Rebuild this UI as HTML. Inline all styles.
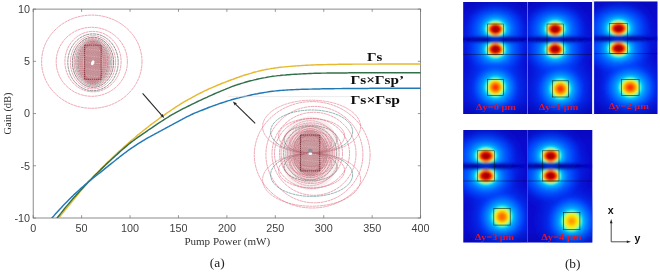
<!DOCTYPE html>
<html><head><meta charset="utf-8"><title>Gain vs pump power</title>
<style>
html,body{margin:0;padding:0;background:#fff;}
body{width:660px;height:273px;overflow:hidden;font-family:"Liberation Sans",sans-serif;}
svg{display:block;}
.fs{font-family:"Liberation Serif",serif;}
.fn{font-family:"Liberation Sans",sans-serif;}
</style></head><body>
<svg width="660" height="273" viewBox="0 0 660 273">
<defs><radialGradient id="jhi" ><stop offset="0.0" stop-color="#7d0000" stop-opacity="1"/><stop offset="0.07" stop-color="#a80000" stop-opacity="1"/><stop offset="0.15" stop-color="#e00800" stop-opacity="1"/><stop offset="0.19333333333333333" stop-color="#ff3200" stop-opacity="1"/><stop offset="0.22333333333333333" stop-color="#ff9600" stop-opacity="1"/><stop offset="0.25" stop-color="#ffe600" stop-opacity="1"/><stop offset="0.27666666666666667" stop-color="#96ff64" stop-opacity="1"/><stop offset="0.31" stop-color="#1effe0" stop-opacity="1"/><stop offset="0.36000000000000004" stop-color="#00c8ff" stop-opacity="1"/><stop offset="0.44" stop-color="#0096ff" stop-opacity="1"/><stop offset="0.5666666666666667" stop-color="#0066ff" stop-opacity="1"/><stop offset="0.7833333333333333" stop-color="#0046ff" stop-opacity="0.55"/><stop offset="1.0" stop-color="#0030f0" stop-opacity="0"/></radialGradient>
<radialGradient id="jhiU" cx="0.5" cy="0.5" r="0.5" fx="0.5" fy="0.545"><stop offset="0.0" stop-color="#7d0000" stop-opacity="1"/><stop offset="0.07" stop-color="#a80000" stop-opacity="1"/><stop offset="0.15" stop-color="#e00800" stop-opacity="1"/><stop offset="0.19333333333333333" stop-color="#ff3200" stop-opacity="1"/><stop offset="0.22333333333333333" stop-color="#ff9600" stop-opacity="1"/><stop offset="0.25" stop-color="#ffe600" stop-opacity="1"/><stop offset="0.27666666666666667" stop-color="#96ff64" stop-opacity="1"/><stop offset="0.31" stop-color="#1effe0" stop-opacity="1"/><stop offset="0.36000000000000004" stop-color="#00c8ff" stop-opacity="1"/><stop offset="0.44" stop-color="#0096ff" stop-opacity="1"/><stop offset="0.5666666666666667" stop-color="#0066ff" stop-opacity="1"/><stop offset="0.7833333333333333" stop-color="#0046ff" stop-opacity="0.55"/><stop offset="1.0" stop-color="#0030f0" stop-opacity="0"/></radialGradient>
<radialGradient id="jhiD" cx="0.5" cy="0.5" r="0.5" fx="0.5" fy="0.455"><stop offset="0.0" stop-color="#7d0000" stop-opacity="1"/><stop offset="0.07" stop-color="#a80000" stop-opacity="1"/><stop offset="0.15" stop-color="#e00800" stop-opacity="1"/><stop offset="0.19333333333333333" stop-color="#ff3200" stop-opacity="1"/><stop offset="0.22333333333333333" stop-color="#ff9600" stop-opacity="1"/><stop offset="0.25" stop-color="#ffe600" stop-opacity="1"/><stop offset="0.27666666666666667" stop-color="#96ff64" stop-opacity="1"/><stop offset="0.31" stop-color="#1effe0" stop-opacity="1"/><stop offset="0.36000000000000004" stop-color="#00c8ff" stop-opacity="1"/><stop offset="0.44" stop-color="#0096ff" stop-opacity="1"/><stop offset="0.5666666666666667" stop-color="#0066ff" stop-opacity="1"/><stop offset="0.7833333333333333" stop-color="#0046ff" stop-opacity="0.55"/><stop offset="1.0" stop-color="#0030f0" stop-opacity="0"/></radialGradient>
<radialGradient id="jmid" ><stop offset="0" stop-color="#ff1e00" stop-opacity="1"/><stop offset="0.06" stop-color="#ff2d00" stop-opacity="1"/><stop offset="0.13" stop-color="#ff5a00" stop-opacity="1"/><stop offset="0.19" stop-color="#ff9600" stop-opacity="1"/><stop offset="0.24" stop-color="#ffcd00" stop-opacity="1"/><stop offset="0.28" stop-color="#fff000" stop-opacity="1"/><stop offset="0.325" stop-color="#96ff64" stop-opacity="1"/><stop offset="0.375" stop-color="#1effe0" stop-opacity="1"/><stop offset="0.43" stop-color="#00c8ff" stop-opacity="1"/><stop offset="0.53" stop-color="#0096ff" stop-opacity="1"/><stop offset="0.69" stop-color="#0066ff" stop-opacity="1"/><stop offset="0.86" stop-color="#0046ff" stop-opacity="0.5"/><stop offset="1" stop-color="#0030f0" stop-opacity="0"/></radialGradient>
<radialGradient id="jlo" ><stop offset="0" stop-color="#ff6400" stop-opacity="1"/><stop offset="0.1" stop-color="#ff6e00" stop-opacity="1"/><stop offset="0.16" stop-color="#ff9600" stop-opacity="1"/><stop offset="0.215" stop-color="#ffd200" stop-opacity="1"/><stop offset="0.275" stop-color="#f8f50f" stop-opacity="1"/><stop offset="0.325" stop-color="#96ff64" stop-opacity="1"/><stop offset="0.375" stop-color="#1effe0" stop-opacity="1"/><stop offset="0.43" stop-color="#00c8ff" stop-opacity="1"/><stop offset="0.53" stop-color="#0096ff" stop-opacity="1"/><stop offset="0.69" stop-color="#0066ff" stop-opacity="1"/><stop offset="0.86" stop-color="#0046ff" stop-opacity="0.5"/><stop offset="1" stop-color="#0030f0" stop-opacity="0"/></radialGradient>
<radialGradient id="jlo2" ><stop offset="0" stop-color="#ff9600" stop-opacity="1"/><stop offset="0.08" stop-color="#ff9b00" stop-opacity="1"/><stop offset="0.14" stop-color="#ffbe00" stop-opacity="1"/><stop offset="0.205" stop-color="#ffe600" stop-opacity="1"/><stop offset="0.275" stop-color="#ebf51e" stop-opacity="1"/><stop offset="0.325" stop-color="#96ff64" stop-opacity="1"/><stop offset="0.375" stop-color="#1effe0" stop-opacity="1"/><stop offset="0.43" stop-color="#00c8ff" stop-opacity="1"/><stop offset="0.53" stop-color="#0096ff" stop-opacity="1"/><stop offset="0.69" stop-color="#0066ff" stop-opacity="1"/><stop offset="0.86" stop-color="#0046ff" stop-opacity="0.5"/><stop offset="1" stop-color="#0030f0" stop-opacity="0"/></radialGradient>
<radialGradient id="halo"><stop offset="0" stop-color="#0060ff" stop-opacity="1"/><stop offset="0.45" stop-color="#0048ff" stop-opacity="0.85"/><stop offset="1" stop-color="#0020e6" stop-opacity="0"/></radialGradient>
<radialGradient id="halo2"><stop offset="0" stop-color="#0078ff" stop-opacity="1"/><stop offset="0.55" stop-color="#0064ff" stop-opacity="0.75"/><stop offset="1" stop-color="#0040ff" stop-opacity="0"/></radialGradient>
<radialGradient id="nullg"><stop offset="0" stop-color="#000096" stop-opacity="0.95"/><stop offset="0.55" stop-color="#0000a0" stop-opacity="0.85"/><stop offset="1" stop-color="#0000c8" stop-opacity="0"/></radialGradient>
<radialGradient id="nullc"><stop offset="0" stop-color="#0050ff" stop-opacity="0.95"/><stop offset="0.55" stop-color="#0046ff" stop-opacity="0.8"/><stop offset="1" stop-color="#0030e0" stop-opacity="0"/></radialGradient>
<linearGradient id="vshade" x1="0" y1="0" x2="0" y2="1"><stop offset="0" stop-color="#000078" stop-opacity="0.18"/><stop offset="0.12" stop-color="#000078" stop-opacity="0"/><stop offset="0.88" stop-color="#000078" stop-opacity="0"/><stop offset="1" stop-color="#000078" stop-opacity="0.25"/></linearGradient>
<filter id="bl" x="-5%" y="-5%" width="110%" height="110%"><feGaussianBlur stdDeviation="0.85"/></filter>
<filter id="blt" x="-2%" y="-2%" width="104%" height="104%"><feGaussianBlur stdDeviation="0.3"/></filter>
<filter id="bl2" x="-5%" y="-5%" width="110%" height="110%"><feGaussianBlur stdDeviation="0.35"/></filter>
<filter id="bl3" x="-5%" y="-5%" width="110%" height="110%"><feGaussianBlur stdDeviation="0.45"/></filter>
<clipPath id="cp1"><rect x="463.2" y="2.0" width="64.30000000000001" height="111.9"/></clipPath>
<clipPath id="cp1a"><rect x="458.2" y="-3.0" width="74.30000000000001" height="42.25"/></clipPath>
<clipPath id="cp1b"><rect x="458.2" y="39.25" width="74.30000000000001" height="79.65"/></clipPath>
<clipPath id="cp2"><rect x="527.5" y="2.0" width="64.79999999999995" height="111.9"/></clipPath>
<clipPath id="cp2a"><rect x="522.5" y="-3.0" width="74.79999999999995" height="42.25"/></clipPath>
<clipPath id="cp2b"><rect x="522.5" y="39.25" width="74.79999999999995" height="79.65"/></clipPath>
<clipPath id="cp3"><rect x="594.0" y="1.5" width="63.5" height="112.6"/></clipPath>
<clipPath id="cp3a"><rect x="589.0" y="-3.5" width="73.5" height="41.95"/></clipPath>
<clipPath id="cp3b"><rect x="589.0" y="38.45" width="73.5" height="80.64999999999999"/></clipPath>
<clipPath id="cp4"><rect x="463.3" y="130" width="64.19999999999999" height="112.4"/></clipPath>
<clipPath id="cp4a"><rect x="458.3" y="125" width="74.19999999999999" height="40.900000000000006"/></clipPath>
<clipPath id="cp4b"><rect x="458.3" y="165.9" width="74.19999999999999" height="81.5"/></clipPath>
<clipPath id="cp5"><rect x="527.5" y="130" width="64.79999999999995" height="112.4"/></clipPath>
<clipPath id="cp5a"><rect x="522.5" y="125" width="74.79999999999995" height="40.900000000000006"/></clipPath>
<clipPath id="cp5b"><rect x="522.5" y="165.9" width="74.79999999999995" height="81.5"/></clipPath><clipPath id="axclip"><rect x="33.2" y="9.1" width="387.40000000000003" height="208.9"/></clipPath></defs>
<rect width="660" height="273" fill="#fff"/>
<g filter="url(#bl2)">
<ellipse cx="91.80" cy="61.70" rx="50.20" ry="46.60" fill="none" stroke="#e2687f" stroke-width="0.65" stroke-opacity="0.9" stroke-dasharray="3 0.5"/>
<ellipse cx="91.80" cy="61.80" rx="35.60" ry="34.50" fill="none" stroke="#e2687f" stroke-width="0.65" stroke-opacity="0.9" stroke-dasharray="3 0.5"/>
<ellipse cx="93.00" cy="61.60" rx="28.10" ry="30.20" fill="none" stroke="#e2687f" stroke-width="0.65" stroke-opacity="0.9" stroke-dasharray="3 0.5"/>
<ellipse cx="93.00" cy="62.30" rx="25.20" ry="28.40" fill="none" stroke="#5a5a5a" stroke-width="0.75" stroke-opacity="0.85" stroke-dasharray="3 0.5"/>
<ellipse cx="93.00" cy="62.30" rx="22.60" ry="26.60" fill="none" stroke="#d9657b" stroke-width="0.65" stroke-opacity="0.9" stroke-dasharray="3 0.5"/>
<ellipse cx="93.00" cy="62.30" rx="20.60" ry="25.00" fill="none" stroke="#444" stroke-width="0.75" stroke-opacity="0.85" stroke-dasharray="3 0.5"/>
<ellipse cx="93.00" cy="62.30" rx="18.80" ry="23.70" fill="none" stroke="#c4596b" stroke-width="0.65" stroke-opacity="0.9" stroke-dasharray="3 0.5"/>
<ellipse cx="93.00" cy="62.30" rx="17.30" ry="22.60" fill="none" stroke="#4f8c88" stroke-width="0.7" stroke-opacity="0.85" stroke-dasharray="3 0.5"/>
<ellipse cx="93.00" cy="62.30" rx="16.00" ry="21.70" fill="none" stroke="#c4596b" stroke-width="0.65" stroke-opacity="0.9" stroke-dasharray="3 0.5"/>
<ellipse cx="93.00" cy="62.30" rx="14.80" ry="20.90" fill="none" stroke="#444" stroke-width="0.7" stroke-opacity="0.85" stroke-dasharray="3 0.5"/>
<ellipse cx="92.9" cy="62.3" rx="21" ry="25.5" fill="#c48488" fill-opacity="0.16"/>
<ellipse cx="92.9" cy="62.3" rx="17.5" ry="23" fill="#c48488" fill-opacity="0.24"/>
<ellipse cx="92.9" cy="62.3" rx="14" ry="20.5" fill="#bd787e" fill-opacity="0.30"/>
<ellipse cx="92.90" cy="62.30" rx="13.70" ry="20.20" fill="none" stroke="#c4596b" stroke-width="0.55" stroke-opacity="0.7" stroke-dasharray="1.6 0.6"/>
<ellipse cx="92.90" cy="62.30" rx="12.70" ry="19.60" fill="none" stroke="#9a4048" stroke-width="0.55" stroke-opacity="0.7" stroke-dasharray="1.6 0.6"/>
<ellipse cx="92.90" cy="62.30" rx="11.80" ry="19.00" fill="none" stroke="#c4596b" stroke-width="0.55" stroke-opacity="0.7" stroke-dasharray="1.6 0.6"/>
<ellipse cx="92.90" cy="62.30" rx="10.90" ry="18.50" fill="none" stroke="#9a4048" stroke-width="0.55" stroke-opacity="0.7" stroke-dasharray="1.6 0.6"/>
<ellipse cx="92.90" cy="62.30" rx="10.10" ry="18.00" fill="none" stroke="#c4596b" stroke-width="0.55" stroke-opacity="0.7" stroke-dasharray="1.6 0.6"/>
<rect x="84.6" y="45.1" width="16.6" height="34.2" fill="#a8626a" fill-opacity="0.36" stroke="#7a2630" stroke-width="0.85" stroke-dasharray="1.5 0.6"/>
<ellipse cx="92.90" cy="62.30" rx="1.60" ry="2.80" fill="none" stroke="#9a4048" stroke-width="0.5" stroke-opacity="0.4" stroke-dasharray="1 0.7"/>
<ellipse cx="92.90" cy="62.30" rx="2.65" ry="5.00" fill="none" stroke="#9a4048" stroke-width="0.5" stroke-opacity="0.4" stroke-dasharray="1 0.7"/>
<ellipse cx="92.90" cy="62.30" rx="3.70" ry="7.20" fill="none" stroke="#9a4048" stroke-width="0.5" stroke-opacity="0.4" stroke-dasharray="1 0.7"/>
<ellipse cx="92.90" cy="62.30" rx="4.75" ry="9.40" fill="none" stroke="#9a4048" stroke-width="0.5" stroke-opacity="0.4" stroke-dasharray="1 0.7"/>
<ellipse cx="92.90" cy="62.30" rx="5.80" ry="11.60" fill="none" stroke="#9a4048" stroke-width="0.5" stroke-opacity="0.4" stroke-dasharray="1 0.7"/>
<ellipse cx="92.90" cy="62.30" rx="6.85" ry="13.80" fill="none" stroke="#9a4048" stroke-width="0.5" stroke-opacity="0.4" stroke-dasharray="1 0.7"/>
<ellipse cx="92.90" cy="62.30" rx="7.90" ry="16.00" fill="none" stroke="#9a4048" stroke-width="0.5" stroke-opacity="0.4" stroke-dasharray="1 0.7"/>
<line x1="86" y1="49.0" x2="100" y2="50.5" stroke="#f3d9da" stroke-width="0.7" stroke-opacity="0.6" stroke-dasharray="1.2 1.4"/>
<line x1="86" y1="55.6" x2="100" y2="57.1" stroke="#f3d9da" stroke-width="0.7" stroke-opacity="0.6" stroke-dasharray="1.2 1.4"/>
<line x1="86" y1="62.2" x2="100" y2="63.7" stroke="#f3d9da" stroke-width="0.7" stroke-opacity="0.6" stroke-dasharray="1.2 1.4"/>
<line x1="86" y1="68.8" x2="100" y2="70.3" stroke="#f3d9da" stroke-width="0.7" stroke-opacity="0.6" stroke-dasharray="1.2 1.4"/>
<line x1="86" y1="75.4" x2="100" y2="76.9" stroke="#f3d9da" stroke-width="0.7" stroke-opacity="0.6" stroke-dasharray="1.2 1.4"/>
<ellipse cx="92.9" cy="62.8" rx="1.5" ry="2.6" fill="#fff" transform="rotate(25 92.9 62.3)"/>
<ellipse cx="312.20" cy="154.80" rx="57.90" ry="53.20" fill="none" stroke="#e2687f" stroke-width="0.65" stroke-opacity="0.9" stroke-dasharray="3 0.5"/>
<ellipse cx="314.40" cy="154.60" rx="48.50" ry="48.20" fill="none" stroke="#e2687f" stroke-width="0.65" stroke-opacity="0.9" stroke-dasharray="3 0.5"/>
<ellipse cx="314.00" cy="153.80" rx="42.00" ry="41.50" fill="none" stroke="#e2687f" stroke-width="0.65" stroke-opacity="0.9" stroke-dasharray="3 0.5"/>
<ellipse cx="312.00" cy="153.40" rx="37.50" ry="35.00" fill="none" stroke="#d9657b" stroke-width="0.65" stroke-opacity="0.9" stroke-dasharray="3 0.5"/>
<ellipse cx="311.00" cy="153.20" rx="31.50" ry="30.30" fill="none" stroke="#d9657b" stroke-width="0.65" stroke-opacity="0.9" stroke-dasharray="3 0.5"/>
<ellipse cx="310.10" cy="153.20" rx="26.50" ry="26.80" fill="none" stroke="#5a5a5a" stroke-width="0.7" stroke-opacity="0.8" stroke-dasharray="3 0.5"/>
<ellipse cx="310.10" cy="153.20" rx="22.60" ry="24.30" fill="none" stroke="#d9657b" stroke-width="0.65" stroke-opacity="0.9" stroke-dasharray="3 0.5"/>
<ellipse cx="310.10" cy="153.20" rx="19.60" ry="22.60" fill="none" stroke="#c4596b" stroke-width="0.65" stroke-opacity="0.9" stroke-dasharray="3 0.5"/>
<ellipse cx="310.10" cy="153.20" rx="17.20" ry="21.40" fill="none" stroke="#5a5a5a" stroke-width="0.7" stroke-opacity="0.8" stroke-dasharray="3 0.5"/>
<ellipse cx="310.10" cy="153.20" rx="15.20" ry="20.50" fill="none" stroke="#c4596b" stroke-width="0.65" stroke-opacity="0.9" stroke-dasharray="3 0.5"/>
<ellipse cx="311.60" cy="131.60" rx="41.00" ry="21.60" fill="none" stroke="#4f8c88" stroke-width="0.75" stroke-opacity="0.85" stroke-dasharray="3 0.5"/>
<ellipse cx="311.60" cy="174.80" rx="41.00" ry="21.60" fill="none" stroke="#4f8c88" stroke-width="0.75" stroke-opacity="0.85" stroke-dasharray="3 0.5"/>
<ellipse cx="311.60" cy="135.90" rx="33.00" ry="17.30" fill="none" stroke="#d9657b" stroke-width="0.65" stroke-opacity="0.85" stroke-dasharray="3 0.5"/>
<ellipse cx="311.60" cy="170.50" rx="33.00" ry="17.30" fill="none" stroke="#d9657b" stroke-width="0.65" stroke-opacity="0.85" stroke-dasharray="3 0.5"/>
<ellipse cx="310.60" cy="139.40" rx="26.50" ry="13.80" fill="none" stroke="#5a5a5a" stroke-width="0.7" stroke-opacity="0.85" stroke-dasharray="3 0.5"/>
<ellipse cx="310.60" cy="167.00" rx="26.50" ry="13.80" fill="none" stroke="#5a5a5a" stroke-width="0.7" stroke-opacity="0.85" stroke-dasharray="3 0.5"/>
<ellipse cx="310.60" cy="142.20" rx="21.00" ry="11.00" fill="none" stroke="#d9657b" stroke-width="0.65" stroke-opacity="0.85" stroke-dasharray="3 0.5"/>
<ellipse cx="310.60" cy="164.20" rx="21.00" ry="11.00" fill="none" stroke="#d9657b" stroke-width="0.65" stroke-opacity="0.85" stroke-dasharray="3 0.5"/>
<ellipse cx="310.60" cy="144.60" rx="16.50" ry="8.60" fill="none" stroke="#c4596b" stroke-width="0.6" stroke-opacity="0.85" stroke-dasharray="3 0.5"/>
<ellipse cx="310.60" cy="161.80" rx="16.50" ry="8.60" fill="none" stroke="#c4596b" stroke-width="0.6" stroke-opacity="0.85" stroke-dasharray="3 0.5"/>
<ellipse cx="310.60" cy="146.60" rx="12.80" ry="6.60" fill="none" stroke="#c4596b" stroke-width="0.6" stroke-opacity="0.85" stroke-dasharray="3 0.5"/>
<ellipse cx="310.60" cy="159.80" rx="12.80" ry="6.60" fill="none" stroke="#c4596b" stroke-width="0.6" stroke-opacity="0.85" stroke-dasharray="3 0.5"/>
<ellipse cx="311.60" cy="126.70" rx="49.00" ry="26.50" fill="none" stroke="#e2687f" stroke-width="0.65" stroke-opacity="0.85" stroke-dasharray="3 0.5"/>
<ellipse cx="311.60" cy="179.70" rx="49.00" ry="26.50" fill="none" stroke="#e2687f" stroke-width="0.65" stroke-opacity="0.85" stroke-dasharray="3 0.5"/>
<ellipse cx="310.10" cy="153.20" rx="29.00" ry="32.50" fill="none" stroke="#d9657b" stroke-width="0.6" stroke-opacity="0.8" stroke-dasharray="3 0.5"/>
<ellipse cx="310.10" cy="153.20" rx="24.50" ry="29.00" fill="none" stroke="#d9657b" stroke-width="0.6" stroke-opacity="0.8" stroke-dasharray="3 0.5"/>
<ellipse cx="310.10" cy="153.20" rx="21.00" ry="26.50" fill="none" stroke="#c4596b" stroke-width="0.6" stroke-opacity="0.8" stroke-dasharray="3 0.5"/>
<ellipse cx="310.10" cy="153.20" rx="18.40" ry="24.60" fill="none" stroke="#d9657b" stroke-width="0.6" stroke-opacity="0.8" stroke-dasharray="3 0.5"/>
<ellipse cx="310.10" cy="153.20" rx="16.20" ry="23.00" fill="none" stroke="#c4596b" stroke-width="0.6" stroke-opacity="0.8" stroke-dasharray="3 0.5"/>
<ellipse cx="310.10" cy="153.20" rx="14.40" ry="21.80" fill="none" stroke="#d9657b" stroke-width="0.6" stroke-opacity="0.8" stroke-dasharray="3 0.5"/>
<ellipse cx="310.1" cy="153.2" rx="30" ry="37" fill="#d09aa0" fill-opacity="0.16"/>
<ellipse cx="310.1" cy="153.2" rx="24" ry="28" fill="#c88c92" fill-opacity="0.20"/>
<ellipse cx="310.1" cy="153.2" rx="17" ry="21.5" fill="#bd787e" fill-opacity="0.30"/>
<ellipse cx="310.10" cy="153.20" rx="13.60" ry="19.90" fill="none" stroke="#c4596b" stroke-width="0.55" stroke-opacity="0.7" stroke-dasharray="1.6 0.6"/>
<ellipse cx="310.10" cy="153.20" rx="12.30" ry="19.30" fill="none" stroke="#9a4048" stroke-width="0.55" stroke-opacity="0.7" stroke-dasharray="1.6 0.6"/>
<ellipse cx="310.10" cy="153.20" rx="11.20" ry="18.80" fill="none" stroke="#c4596b" stroke-width="0.55" stroke-opacity="0.7" stroke-dasharray="1.6 0.6"/>
<rect x="300.4" y="135" width="19.4" height="36" fill="#a8626a" fill-opacity="0.34" stroke="#5e1e26" stroke-width="0.85" stroke-dasharray="1.5 0.6"/>
<ellipse cx="310.10" cy="153.20" rx="1.80" ry="2.60" fill="none" stroke="#9a4048" stroke-width="0.5" stroke-opacity="0.4" stroke-dasharray="1 0.7"/>
<ellipse cx="310.10" cy="153.20" rx="3.05" ry="4.90" fill="none" stroke="#9a4048" stroke-width="0.5" stroke-opacity="0.4" stroke-dasharray="1 0.7"/>
<ellipse cx="310.10" cy="153.20" rx="4.30" ry="7.20" fill="none" stroke="#9a4048" stroke-width="0.5" stroke-opacity="0.4" stroke-dasharray="1 0.7"/>
<ellipse cx="310.10" cy="153.20" rx="5.55" ry="9.50" fill="none" stroke="#9a4048" stroke-width="0.5" stroke-opacity="0.4" stroke-dasharray="1 0.7"/>
<ellipse cx="310.10" cy="153.20" rx="6.80" ry="11.80" fill="none" stroke="#9a4048" stroke-width="0.5" stroke-opacity="0.4" stroke-dasharray="1 0.7"/>
<ellipse cx="310.10" cy="153.20" rx="8.05" ry="14.10" fill="none" stroke="#9a4048" stroke-width="0.5" stroke-opacity="0.4" stroke-dasharray="1 0.7"/>
<ellipse cx="310.10" cy="153.20" rx="9.30" ry="16.40" fill="none" stroke="#9a4048" stroke-width="0.5" stroke-opacity="0.4" stroke-dasharray="1 0.7"/>
<line x1="302" y1="139" x2="318" y2="140.5" stroke="#f3d9da" stroke-width="0.7" stroke-opacity="0.6" stroke-dasharray="1.2 1.4"/>
<line x1="302" y1="146" x2="318" y2="147.5" stroke="#f3d9da" stroke-width="0.7" stroke-opacity="0.6" stroke-dasharray="1.2 1.4"/>
<line x1="302" y1="153" x2="318" y2="154.5" stroke="#f3d9da" stroke-width="0.7" stroke-opacity="0.6" stroke-dasharray="1.2 1.4"/>
<line x1="302" y1="160" x2="318" y2="161.5" stroke="#f3d9da" stroke-width="0.7" stroke-opacity="0.6" stroke-dasharray="1.2 1.4"/>
<line x1="302" y1="167" x2="318" y2="168.5" stroke="#f3d9da" stroke-width="0.7" stroke-opacity="0.6" stroke-dasharray="1.2 1.4"/>
<ellipse cx="310.3" cy="151.0" rx="2.4" ry="2.2" fill="#8d8f96"/>
<ellipse cx="310.3" cy="153.79999999999998" rx="1.9" ry="1.2" fill="#fff"/>
</g>
<g filter="url(#blt)">
<rect x="33.2" y="9.1" width="387.40000000000003" height="208.9" fill="none" stroke="#6e6e6e" stroke-width="0.8"/>
<line x1="33.20" y1="218.0" x2="33.20" y2="215.2" stroke="#6e6e6e" stroke-width="0.7"/>
<line x1="33.20" y1="9.1" x2="33.20" y2="11.899999999999999" stroke="#6e6e6e" stroke-width="0.7"/>
<text x="33.20" y="232.3" class="fn" font-size="10.8" fill="#404040" text-anchor="middle">0</text>
<line x1="81.62" y1="218.0" x2="81.62" y2="215.2" stroke="#6e6e6e" stroke-width="0.7"/>
<line x1="81.62" y1="9.1" x2="81.62" y2="11.899999999999999" stroke="#6e6e6e" stroke-width="0.7"/>
<text x="81.62" y="232.3" class="fn" font-size="10.8" fill="#404040" text-anchor="middle">50</text>
<line x1="130.05" y1="218.0" x2="130.05" y2="215.2" stroke="#6e6e6e" stroke-width="0.7"/>
<line x1="130.05" y1="9.1" x2="130.05" y2="11.899999999999999" stroke="#6e6e6e" stroke-width="0.7"/>
<text x="130.05" y="232.3" class="fn" font-size="10.8" fill="#404040" text-anchor="middle">100</text>
<line x1="178.48" y1="218.0" x2="178.48" y2="215.2" stroke="#6e6e6e" stroke-width="0.7"/>
<line x1="178.48" y1="9.1" x2="178.48" y2="11.899999999999999" stroke="#6e6e6e" stroke-width="0.7"/>
<text x="178.48" y="232.3" class="fn" font-size="10.8" fill="#404040" text-anchor="middle">150</text>
<line x1="226.90" y1="218.0" x2="226.90" y2="215.2" stroke="#6e6e6e" stroke-width="0.7"/>
<line x1="226.90" y1="9.1" x2="226.90" y2="11.899999999999999" stroke="#6e6e6e" stroke-width="0.7"/>
<text x="226.90" y="232.3" class="fn" font-size="10.8" fill="#404040" text-anchor="middle">200</text>
<line x1="275.33" y1="218.0" x2="275.33" y2="215.2" stroke="#6e6e6e" stroke-width="0.7"/>
<line x1="275.33" y1="9.1" x2="275.33" y2="11.899999999999999" stroke="#6e6e6e" stroke-width="0.7"/>
<text x="275.33" y="232.3" class="fn" font-size="10.8" fill="#404040" text-anchor="middle">250</text>
<line x1="323.75" y1="218.0" x2="323.75" y2="215.2" stroke="#6e6e6e" stroke-width="0.7"/>
<line x1="323.75" y1="9.1" x2="323.75" y2="11.899999999999999" stroke="#6e6e6e" stroke-width="0.7"/>
<text x="323.75" y="232.3" class="fn" font-size="10.8" fill="#404040" text-anchor="middle">300</text>
<line x1="372.18" y1="218.0" x2="372.18" y2="215.2" stroke="#6e6e6e" stroke-width="0.7"/>
<line x1="372.18" y1="9.1" x2="372.18" y2="11.899999999999999" stroke="#6e6e6e" stroke-width="0.7"/>
<text x="372.18" y="232.3" class="fn" font-size="10.8" fill="#404040" text-anchor="middle">350</text>
<line x1="420.60" y1="218.0" x2="420.60" y2="215.2" stroke="#6e6e6e" stroke-width="0.7"/>
<line x1="420.60" y1="9.1" x2="420.60" y2="11.899999999999999" stroke="#6e6e6e" stroke-width="0.7"/>
<text x="420.60" y="232.3" class="fn" font-size="10.8" fill="#404040" text-anchor="middle">400</text>
<line x1="33.2" y1="218.00" x2="36.0" y2="218.00" stroke="#6e6e6e" stroke-width="0.7"/>
<line x1="420.6" y1="218.00" x2="417.8" y2="218.00" stroke="#6e6e6e" stroke-width="0.7"/>
<text x="30" y="221.80" class="fn" font-size="10.8" fill="#404040" text-anchor="end">-10</text>
<line x1="33.2" y1="165.78" x2="36.0" y2="165.78" stroke="#6e6e6e" stroke-width="0.7"/>
<line x1="420.6" y1="165.78" x2="417.8" y2="165.78" stroke="#6e6e6e" stroke-width="0.7"/>
<text x="30" y="169.58" class="fn" font-size="10.8" fill="#404040" text-anchor="end">-5</text>
<line x1="33.2" y1="113.55" x2="36.0" y2="113.55" stroke="#6e6e6e" stroke-width="0.7"/>
<line x1="420.6" y1="113.55" x2="417.8" y2="113.55" stroke="#6e6e6e" stroke-width="0.7"/>
<text x="30" y="117.35" class="fn" font-size="10.8" fill="#404040" text-anchor="end">0</text>
<line x1="33.2" y1="61.32" x2="36.0" y2="61.32" stroke="#6e6e6e" stroke-width="0.7"/>
<line x1="420.6" y1="61.32" x2="417.8" y2="61.32" stroke="#6e6e6e" stroke-width="0.7"/>
<text x="30" y="65.12" class="fn" font-size="10.8" fill="#404040" text-anchor="end">5</text>
<line x1="33.2" y1="9.10" x2="36.0" y2="9.10" stroke="#6e6e6e" stroke-width="0.7"/>
<line x1="420.6" y1="9.10" x2="417.8" y2="9.10" stroke="#6e6e6e" stroke-width="0.7"/>
<text x="30" y="12.90" class="fn" font-size="10.8" fill="#404040" text-anchor="end">10</text>
<g clip-path="url(#axclip)" fill="none" stroke-width="1.45" stroke-linecap="round" stroke-linejoin="round">
<path d="M58.6,218.0 L60.4,215.8 L62.2,213.6 L64.1,211.3 L65.9,209.1 L67.7,206.9 L69.5,204.7 L71.3,202.5 L73.1,200.3 L75.0,198.1 L76.8,195.9 L78.6,193.6 L80.4,191.4 L82.2,189.2 L84.1,187.0 L85.9,184.9 L87.7,182.8 L89.5,180.8 L91.3,178.9 L93.2,177.0 L95.0,175.1 L96.8,173.2 L98.6,171.4 L100.4,169.6 L102.2,167.7 L104.1,165.9 L105.9,164.1 L107.7,162.3 L109.5,160.5 L111.3,158.8 L113.2,157.0 L115.0,155.3 L116.8,153.6 L118.6,151.9 L120.4,150.2 L122.3,148.6 L124.1,146.9 L125.9,145.3 L127.7,143.7 L129.5,142.1 L131.3,140.5 L133.2,139.0 L135.0,137.5 L136.8,135.9 L138.6,134.4 L140.4,133.0 L142.3,131.5 L144.1,130.0 L145.9,128.6 L147.7,127.2 L149.5,125.8 L151.3,124.4 L153.2,123.0 L155.0,121.7 L156.8,120.3 L158.6,119.0 L160.4,117.7 L162.3,116.4 L164.1,115.1 L165.9,113.8 L167.7,112.5 L169.5,111.3 L171.4,110.0 L173.2,108.8 L175.0,107.6 L176.8,106.4 L178.6,105.3 L180.4,104.1 L182.3,103.0 L184.1,101.9 L185.9,100.8 L187.7,99.8 L189.5,98.8 L191.4,97.8 L193.2,96.8 L195.0,95.8 L196.8,94.8 L198.6,93.9 L200.5,93.0 L202.3,92.1 L204.1,91.2 L205.9,90.4 L207.7,89.5 L209.5,88.7 L211.4,87.9 L213.2,87.1 L215.0,86.3 L216.8,85.5 L218.6,84.8 L220.5,84.0 L222.3,83.3 L224.1,82.6 L225.9,81.9 L227.7,81.2 L229.5,80.5 L231.4,79.8 L233.2,79.2 L235.0,78.5 L236.8,77.8 L238.6,77.2 L240.5,76.5 L242.3,75.9 L244.1,75.3 L245.9,74.7 L247.7,74.2 L249.6,73.6 L251.4,73.1 L253.2,72.5 L255.0,72.0 L256.8,71.6 L258.6,71.1 L260.5,70.7 L262.3,70.3 L264.1,69.9 L265.9,69.5 L267.7,69.2 L269.6,68.9 L271.4,68.5 L273.2,68.3 L275.0,68.0 L276.8,67.8 L278.6,67.5 L280.5,67.3 L282.3,67.1 L284.1,66.9 L285.9,66.8 L287.7,66.6 L289.6,66.4 L291.4,66.3 L293.2,66.1 L295.0,66.0 L296.8,65.9 L298.7,65.7 L300.5,65.6 L302.3,65.5 L304.1,65.4 L305.9,65.3 L307.7,65.2 L309.6,65.1 L311.4,65.0 L313.2,65.0 L315.0,64.9 L316.8,64.8 L318.7,64.8 L320.5,64.7 L322.3,64.7 L324.1,64.6 L325.9,64.6 L327.8,64.5 L329.6,64.5 L331.4,64.5 L333.2,64.4 L335.0,64.4 L336.8,64.4 L338.7,64.3 L340.5,64.3 L342.3,64.3 L344.1,64.3 L345.9,64.2 L347.8,64.2 L349.6,64.2 L351.4,64.2 L353.2,64.1 L355.0,64.1 L356.8,64.1 L358.7,64.1 L360.5,64.1 L362.3,64.1 L364.1,64.1 L365.9,64.1 L367.8,64.1 L369.6,64.1 L371.4,64.1 L373.2,64.1 L375.0,64.1 L376.9,64.1 L378.7,64.0 L380.5,64.0 L382.3,64.0 L384.1,64.0 L385.9,64.0 L387.8,64.0 L389.6,64.0 L391.4,64.0 L393.2,64.0 L395.0,64.0 L396.9,64.0 L398.7,64.0 L400.5,64.0 L402.3,64.0 L404.1,64.0 L406.0,64.0 L407.8,64.0 L409.6,64.0 L411.4,64.0 L413.2,64.0 L415.0,64.0 L416.9,64.0 L418.7,64.0 L420.5,64.0" stroke="#e6b92e"/>
<path d="M57.1,218.0 L58.9,215.7 L60.8,213.4 L62.6,211.1 L64.4,208.8 L66.2,206.6 L68.1,204.4 L69.9,202.3 L71.7,200.1 L73.5,198.0 L75.4,196.0 L77.2,194.0 L79.0,192.0 L80.8,190.0 L82.7,188.0 L84.5,186.1 L86.3,184.2 L88.1,182.2 L90.0,180.4 L91.8,178.5 L93.6,176.6 L95.4,174.8 L97.3,173.0 L99.1,171.2 L100.9,169.4 L102.8,167.6 L104.6,165.9 L106.4,164.1 L108.2,162.4 L110.1,160.7 L111.9,159.0 L113.7,157.4 L115.5,155.7 L117.4,154.1 L119.2,152.4 L121.0,150.8 L122.8,149.2 L124.7,147.6 L126.5,146.1 L128.3,144.5 L130.1,143.1 L132.0,141.7 L133.8,140.3 L135.6,139.0 L137.4,137.7 L139.3,136.4 L141.1,135.1 L142.9,133.8 L144.8,132.6 L146.6,131.3 L148.4,130.0 L150.2,128.8 L152.1,127.6 L153.9,126.3 L155.7,125.1 L157.5,123.9 L159.4,122.7 L161.2,121.5 L163.0,120.4 L164.8,119.2 L166.7,118.0 L168.5,116.9 L170.3,115.7 L172.1,114.6 L174.0,113.6 L175.8,112.6 L177.6,111.6 L179.5,110.6 L181.3,109.6 L183.1,108.7 L184.9,107.8 L186.8,106.9 L188.6,106.0 L190.4,105.1 L192.2,104.2 L194.1,103.3 L195.9,102.4 L197.7,101.5 L199.5,100.7 L201.4,99.8 L203.2,98.9 L205.0,98.1 L206.8,97.3 L208.7,96.4 L210.5,95.6 L212.3,94.8 L214.1,94.0 L216.0,93.2 L217.8,92.4 L219.6,91.7 L221.5,90.9 L223.3,90.1 L225.1,89.4 L226.9,88.6 L228.8,87.9 L230.6,87.1 L232.4,86.4 L234.2,85.8 L236.1,85.1 L237.9,84.5 L239.7,84.0 L241.5,83.4 L243.4,82.9 L245.2,82.3 L247.0,81.8 L248.8,81.3 L250.7,80.8 L252.5,80.4 L254.3,79.9 L256.1,79.5 L258.0,79.0 L259.8,78.6 L261.6,78.3 L263.5,77.9 L265.3,77.6 L267.1,77.2 L268.9,76.9 L270.8,76.6 L272.6,76.3 L274.4,76.1 L276.2,75.9 L278.1,75.6 L279.9,75.5 L281.7,75.3 L283.5,75.1 L285.4,75.0 L287.2,74.8 L289.0,74.7 L290.8,74.5 L292.7,74.4 L294.5,74.3 L296.3,74.2 L298.1,74.1 L300.0,74.0 L301.8,73.9 L303.6,73.8 L305.5,73.7 L307.3,73.6 L309.1,73.5 L310.9,73.5 L312.8,73.4 L314.6,73.3 L316.4,73.3 L318.2,73.2 L320.1,73.2 L321.9,73.1 L323.7,73.1 L325.5,73.1 L327.4,73.0 L329.2,73.0 L331.0,73.0 L332.8,73.0 L334.7,73.0 L336.5,72.9 L338.3,72.9 L340.2,72.9 L342.0,72.9 L343.8,72.9 L345.6,72.9 L347.5,72.9 L349.3,72.8 L351.1,72.8 L352.9,72.8 L354.8,72.8 L356.6,72.8 L358.4,72.8 L360.2,72.8 L362.1,72.8 L363.9,72.8 L365.7,72.8 L367.5,72.8 L369.4,72.8 L371.2,72.8 L373.0,72.8 L374.8,72.8 L376.7,72.8 L378.5,72.8 L380.3,72.7 L382.2,72.7 L384.0,72.7 L385.8,72.7 L387.6,72.7 L389.5,72.7 L391.3,72.7 L393.1,72.7 L394.9,72.7 L396.8,72.7 L398.6,72.7 L400.4,72.7 L402.2,72.7 L404.1,72.7 L405.9,72.7 L407.7,72.7 L409.5,72.7 L411.4,72.7 L413.2,72.7 L415.0,72.7 L416.8,72.7 L418.7,72.7 L420.5,72.7" stroke="#33704a"/>
<path d="M51.9,218.0 L53.8,215.9 L55.6,213.8 L57.5,211.7 L59.3,209.7 L61.2,207.7 L63.0,205.7 L64.9,203.8 L66.7,201.9 L68.6,200.0 L70.4,198.2 L72.3,196.4 L74.1,194.6 L76.0,192.9 L77.8,191.2 L79.7,189.5 L81.5,187.8 L83.4,186.2 L85.2,184.6 L87.1,183.0 L88.9,181.4 L90.8,179.9 L92.6,178.4 L94.5,176.9 L96.4,175.5 L98.2,174.0 L100.1,172.6 L101.9,171.1 L103.8,169.6 L105.6,168.1 L107.5,166.6 L109.3,165.1 L111.2,163.6 L113.0,162.2 L114.9,160.7 L116.7,159.2 L118.6,157.8 L120.4,156.3 L122.3,154.9 L124.1,153.5 L126.0,152.1 L127.8,150.7 L129.7,149.4 L131.5,148.1 L133.4,146.9 L135.3,145.6 L137.1,144.4 L139.0,143.2 L140.8,142.1 L142.7,140.9 L144.5,139.8 L146.4,138.7 L148.2,137.6 L150.1,136.6 L151.9,135.6 L153.8,134.6 L155.6,133.6 L157.5,132.6 L159.3,131.6 L161.2,130.7 L163.0,129.7 L164.9,128.7 L166.7,127.6 L168.6,126.6 L170.4,125.6 L172.3,124.6 L174.1,123.6 L176.0,122.6 L177.9,121.6 L179.7,120.7 L181.6,119.7 L183.4,118.7 L185.3,117.7 L187.1,116.7 L189.0,115.8 L190.8,114.9 L192.7,114.0 L194.5,113.2 L196.4,112.4 L198.2,111.7 L200.1,110.9 L201.9,110.2 L203.8,109.5 L205.6,108.8 L207.5,108.0 L209.3,107.3 L211.2,106.6 L213.0,105.9 L214.9,105.3 L216.8,104.6 L218.6,103.9 L220.5,103.3 L222.3,102.7 L224.2,102.1 L226.0,101.5 L227.9,100.9 L229.7,100.4 L231.6,99.8 L233.4,99.3 L235.3,98.8 L237.1,98.3 L239.0,97.9 L240.8,97.4 L242.7,96.9 L244.5,96.5 L246.4,96.1 L248.2,95.6 L250.1,95.2 L251.9,94.8 L253.8,94.4 L255.6,94.0 L257.5,93.7 L259.4,93.3 L261.2,93.0 L263.1,92.7 L264.9,92.4 L266.8,92.1 L268.6,91.8 L270.5,91.5 L272.3,91.3 L274.2,91.1 L276.0,90.9 L277.9,90.7 L279.7,90.5 L281.6,90.4 L283.4,90.2 L285.3,90.1 L287.1,90.0 L289.0,89.9 L290.8,89.8 L292.7,89.7 L294.5,89.6 L296.4,89.5 L298.3,89.5 L300.1,89.4 L302.0,89.3 L303.8,89.3 L305.7,89.2 L307.5,89.2 L309.4,89.1 L311.2,89.1 L313.1,89.0 L314.9,89.0 L316.8,88.9 L318.6,88.9 L320.5,88.9 L322.3,88.8 L324.2,88.8 L326.0,88.8 L327.9,88.7 L329.7,88.7 L331.6,88.7 L333.4,88.7 L335.3,88.6 L337.1,88.6 L339.0,88.6 L340.9,88.6 L342.7,88.5 L344.6,88.5 L346.4,88.5 L348.3,88.5 L350.1,88.5 L352.0,88.5 L353.8,88.4 L355.7,88.4 L357.5,88.4 L359.4,88.4 L361.2,88.4 L363.1,88.4 L364.9,88.4 L366.8,88.4 L368.6,88.4 L370.5,88.3 L372.3,88.3 L374.2,88.3 L376.0,88.3 L377.9,88.3 L379.8,88.3 L381.6,88.3 L383.5,88.3 L385.3,88.3 L387.2,88.3 L389.0,88.3 L390.9,88.3 L392.7,88.3 L394.6,88.2 L396.4,88.2 L398.3,88.2 L400.1,88.2 L402.0,88.2 L403.8,88.2 L405.7,88.2 L407.5,88.2 L409.4,88.2 L411.2,88.2 L413.1,88.2 L414.9,88.2 L416.8,88.2 L418.6,88.2 L420.5,88.2" stroke="#2278b5"/>
</g>
<line x1="142.6" y1="93.3" x2="161.57" y2="115.08" stroke="#222" stroke-width="1.05"/><polygon points="164.20,118.10 160.44,116.07 162.70,114.10" fill="#222"/>
<line x1="255.2" y1="123.4" x2="235.76" y2="104.40" stroke="#222" stroke-width="1.05"/><polygon points="232.90,101.60 236.81,103.32 234.71,105.47" fill="#222"/>
<line x1="228" y1="96.6" x2="352" y2="96.6" stroke="#d8d8d8" stroke-width="0.6" stroke-opacity="0.8"/>
<text x="374.7" y="61.4" class="fs" font-weight="bold" font-size="13.2" fill="#111" text-anchor="middle" textLength="15.3" lengthAdjust="spacingAndGlyphs">Γs</text>
<text x="377.3" y="84.0" class="fs" font-weight="bold" font-size="13.2" fill="#111" text-anchor="middle" textLength="53.6" lengthAdjust="spacingAndGlyphs">Γs×Γsp’</text>
<text x="375.2" y="103.5" class="fs" font-weight="bold" font-size="13.2" fill="#111" text-anchor="middle" textLength="49.6" lengthAdjust="spacingAndGlyphs">Γs×Γsp</text>
<text x="227.3" y="245.4" class="fs" font-size="10.5" fill="#333" text-anchor="middle" textLength="85.8" lengthAdjust="spacingAndGlyphs">Pump Power (mW)</text>
<text transform="translate(10.5,113.5) rotate(-90)" class="fs" font-size="9.6" fill="#333" text-anchor="middle" textLength="42" lengthAdjust="spacingAndGlyphs">Gain (dB)</text>
<text x="217.3" y="267.0" class="fs" font-size="13.4" fill="#222" text-anchor="middle">(a)</text>
<text x="572.7" y="267.6" class="fs" font-size="13.4" fill="#222" text-anchor="middle">(b)</text>
</g>
<g clip-path="url(#cp1)">
<rect x="462.2" y="1.0" width="66.30000000000001" height="113.9" fill="#0a0ace"/>
<g filter="url(#bl)">
<ellipse cx="495.5" cy="39.25" rx="42" ry="46" fill="url(#halo)"/>
<ellipse cx="495.5" cy="87.3" rx="40" ry="40" fill="url(#halo)"/>
<ellipse cx="495.5" cy="39.25" rx="24" ry="27" fill="url(#halo2)"/>
<ellipse cx="495.5" cy="27.39" rx="30.00" ry="25.0" fill="url(#jhiU)" clip-path="url(#cp1a)"/>
<ellipse cx="495.5" cy="51.11" rx="30.00" ry="25.0" fill="url(#jhiD)" clip-path="url(#cp1b)"/>
<ellipse cx="495.5" cy="39.45" rx="52" ry="4.4" fill="url(#nullg)"/>
<ellipse cx="495.5" cy="39.45" rx="9.60" ry="2.4" fill="url(#nullc)" fill-opacity="0.6"/>
<ellipse cx="495.5" cy="87.3" rx="24.69" ry="24.69" fill="url(#jmid)"/>
</g>
<rect x="463.2" y="2.0" width="64.30000000000001" height="111.9" fill="url(#vshade)"/>
<g>
<line x1="463.2" y1="54.5" x2="527.5" y2="54.5" stroke="#0a0a28" stroke-width="0.55" stroke-opacity="0.8"/>
<rect x="487.5" y="24" width="16" height="30.5" fill="none" stroke="#0c1c0c" stroke-width="0.55" stroke-opacity="0.9"/>
<rect x="487.5" y="79.3" width="16" height="16" fill="none" stroke="#0c1c0c" stroke-width="0.65" stroke-opacity="0.9"/>
</g>
<text x="496" y="109.6" class="fs" font-weight="bold" font-size="9.2" fill="#de1432" text-anchor="middle" textLength="40" lengthAdjust="spacingAndGlyphs" filter="url(#bl3)">Δy=0 μm</text>
</g>
<g clip-path="url(#cp2)">
<rect x="526.5" y="1.0" width="66.79999999999995" height="113.9" fill="#0a0ace"/>
<g filter="url(#bl)">
<ellipse cx="555.15" cy="39.25" rx="42" ry="46" fill="url(#halo)"/>
<ellipse cx="560.4" cy="88.89999999999999" rx="40" ry="40" fill="url(#halo)"/>
<ellipse cx="555.15" cy="39.25" rx="24" ry="27" fill="url(#halo2)"/>
<ellipse cx="555.15" cy="27.39" rx="30.34" ry="25.0" fill="url(#jhiU)" clip-path="url(#cp2a)"/>
<ellipse cx="555.15" cy="51.11" rx="30.34" ry="25.0" fill="url(#jhiD)" clip-path="url(#cp2b)"/>
<ellipse cx="555.15" cy="39.45" rx="52" ry="4.4" fill="url(#nullg)"/>
<ellipse cx="555.15" cy="39.45" rx="9.78" ry="2.4" fill="url(#nullc)" fill-opacity="0.6"/>
<ellipse cx="560.4" cy="88.89999999999999" rx="25.00" ry="25.00" fill="url(#jmid)"/>
</g>
<rect x="527.5" y="2.0" width="64.79999999999995" height="111.9" fill="url(#vshade)"/>
<g>
<line x1="527.5" y1="54.5" x2="592.3" y2="54.5" stroke="#0a0a28" stroke-width="0.55" stroke-opacity="0.8"/>
<rect x="547" y="24" width="16.3" height="30.5" fill="none" stroke="#0c1c0c" stroke-width="0.55" stroke-opacity="0.9"/>
<rect x="552.3" y="80.8" width="16.2" height="16.2" fill="none" stroke="#0c1c0c" stroke-width="0.65" stroke-opacity="0.9"/>
</g>
<text x="558.5" y="109.6" class="fs" font-weight="bold" font-size="9.2" fill="#de1432" text-anchor="middle" textLength="39.5" lengthAdjust="spacingAndGlyphs" filter="url(#bl3)">Δy=1 μm</text>
</g>
<g clip-path="url(#cp3)">
<rect x="593.0" y="0.5" width="65.5" height="114.6" fill="#0a0ace"/>
<g filter="url(#bl)">
<ellipse cx="618.6" cy="38.45" rx="42" ry="46" fill="url(#halo)"/>
<ellipse cx="630.1999999999999" cy="87.4" rx="40" ry="40" fill="url(#halo)"/>
<ellipse cx="618.6" cy="38.45" rx="24" ry="27" fill="url(#halo2)"/>
<ellipse cx="618.6" cy="26.66" rx="32.48" ry="25.0" fill="url(#jhiU)" clip-path="url(#cp3a)"/>
<ellipse cx="618.6" cy="50.24" rx="32.48" ry="25.0" fill="url(#jhiD)" clip-path="url(#cp3b)"/>
<ellipse cx="618.6" cy="38.650000000000006" rx="52" ry="4.4" fill="url(#nullg)"/>
<ellipse cx="618.6" cy="38.650000000000006" rx="10.92" ry="2.4" fill="url(#nullc)" fill-opacity="0.6"/>
<ellipse cx="630.1999999999999" cy="87.4" rx="27.47" ry="24.69" fill="url(#jmid)"/>
</g>
<rect x="594.0" y="1.5" width="63.5" height="112.6" fill="url(#vshade)"/>
<g>
<line x1="594.0" y1="53.6" x2="657.5" y2="53.6" stroke="#0a0a28" stroke-width="0.55" stroke-opacity="0.8"/>
<rect x="609.5" y="23.3" width="18.2" height="30.3" fill="none" stroke="#0c1c0c" stroke-width="0.55" stroke-opacity="0.9"/>
<rect x="621.3" y="79.4" width="17.8" height="16" fill="none" stroke="#0c1c0c" stroke-width="0.65" stroke-opacity="0.9"/>
</g>
<text x="628.8" y="109.3" class="fs" font-weight="bold" font-size="9.2" fill="#de1432" text-anchor="middle" textLength="40" lengthAdjust="spacingAndGlyphs" filter="url(#bl3)">Δy=2 μm</text>
</g>
<g clip-path="url(#cp4)">
<rect x="462.3" y="129" width="66.19999999999999" height="114.4" fill="#0a0ace"/>
<g filter="url(#bl)">
<ellipse cx="486.0" cy="165.9" rx="42" ry="46" fill="url(#halo)"/>
<ellipse cx="502.0" cy="216.70000000000002" rx="40" ry="40" fill="url(#halo)"/>
<ellipse cx="486.0" cy="165.9" rx="24" ry="27" fill="url(#halo2)"/>
<ellipse cx="486.0" cy="154.14" rx="31.35" ry="25.0" fill="url(#jhiU)" clip-path="url(#cp4a)"/>
<ellipse cx="486.0" cy="177.66" rx="31.35" ry="25.0" fill="url(#jhiD)" clip-path="url(#cp4b)"/>
<ellipse cx="486.0" cy="166.1" rx="52" ry="4.4" fill="url(#nullg)"/>
<ellipse cx="486.0" cy="166.1" rx="10.32" ry="2.4" fill="url(#nullc)" fill-opacity="0.6"/>
<ellipse cx="502.0" cy="216.70000000000002" rx="25.31" ry="25.93" fill="url(#jlo)"/>
</g>
<rect x="463.3" y="130" width="64.19999999999999" height="112.4" fill="url(#vshade)"/>
<g>
<line x1="463.3" y1="181" x2="527.5" y2="181" stroke="#0a0a28" stroke-width="0.55" stroke-opacity="0.8"/>
<rect x="477.4" y="150.8" width="17.2" height="30.19999999999999" fill="none" stroke="#0c1c0c" stroke-width="0.55" stroke-opacity="0.9"/>
<rect x="493.8" y="208.3" width="16.4" height="16.8" fill="none" stroke="#0c1c0c" stroke-width="0.65" stroke-opacity="0.9"/>
</g>
<text x="494.5" y="239.9" class="fs" font-weight="bold" font-size="9.2" fill="#de1432" text-anchor="middle" textLength="39" lengthAdjust="spacingAndGlyphs" filter="url(#bl3)">Δy=3 μm</text>
</g>
<g clip-path="url(#cp5)">
<rect x="526.5" y="129" width="66.79999999999995" height="114.4" fill="#0a0ace"/>
<g filter="url(#bl)">
<ellipse cx="550.75" cy="165.9" rx="42" ry="46" fill="url(#halo)"/>
<ellipse cx="571.7" cy="221.1" rx="40" ry="40" fill="url(#halo)"/>
<ellipse cx="550.75" cy="165.9" rx="24" ry="27" fill="url(#halo2)"/>
<ellipse cx="550.75" cy="154.14" rx="30.56" ry="25.0" fill="url(#jhiU)" clip-path="url(#cp5a)"/>
<ellipse cx="550.75" cy="177.66" rx="30.56" ry="25.0" fill="url(#jhiD)" clip-path="url(#cp5b)"/>
<ellipse cx="550.75" cy="166.1" rx="52" ry="4.4" fill="url(#nullg)"/>
<ellipse cx="550.75" cy="166.1" rx="9.90" ry="2.4" fill="url(#nullc)" fill-opacity="0.6"/>
<ellipse cx="571.7" cy="221.1" rx="25.31" ry="26.54" fill="url(#jlo2)"/>
</g>
<rect x="527.5" y="130" width="64.79999999999995" height="112.4" fill="url(#vshade)"/>
<g>
<line x1="527.5" y1="181" x2="592.3" y2="181" stroke="#0a0a28" stroke-width="0.55" stroke-opacity="0.8"/>
<rect x="542.5" y="150.8" width="16.5" height="30.19999999999999" fill="none" stroke="#0c1c0c" stroke-width="0.55" stroke-opacity="0.9"/>
<rect x="563.5" y="212.5" width="16.4" height="17.2" fill="none" stroke="#0c1c0c" stroke-width="0.65" stroke-opacity="0.9"/>
</g>
<text x="561.4" y="240.0" class="fs" font-weight="bold" font-size="9.2" fill="#de1432" text-anchor="middle" textLength="40.5" lengthAdjust="spacingAndGlyphs" filter="url(#bl3)">Δy=4 μm</text>
</g>
<line x1="527.5" y1="2.0" x2="527.5" y2="113.9" stroke="#7878dc" stroke-width="0.9" stroke-opacity="0.8"/>
<rect x="592.2" y="0" width="1.9" height="115" fill="#e8e8fa"/>
<line x1="527.5" y1="130" x2="527.5" y2="242.4" stroke="#4a4ac8" stroke-width="0.9" stroke-opacity="0.8"/>
<g filter="url(#blt)">
<text x="610.8" y="214.4" class="fn" font-weight="bold" font-size="10.6" fill="#111" text-anchor="middle">x</text>
<text x="637.5" y="242.3" class="fn" font-weight="bold" font-size="10.6" fill="#111" text-anchor="middle">y</text>
<path d="M611.2,222 L611.2,241.8 L628,241.8" fill="none" stroke="#222" stroke-width="0.8"/>
<polygon points="611.2,219 609.9,223.2 612.5,223.2" fill="#222"/>
<polygon points="631,241.8 626.8,240.5 626.8,243.1" fill="#222"/>
</g>
</svg>
</body></html>
